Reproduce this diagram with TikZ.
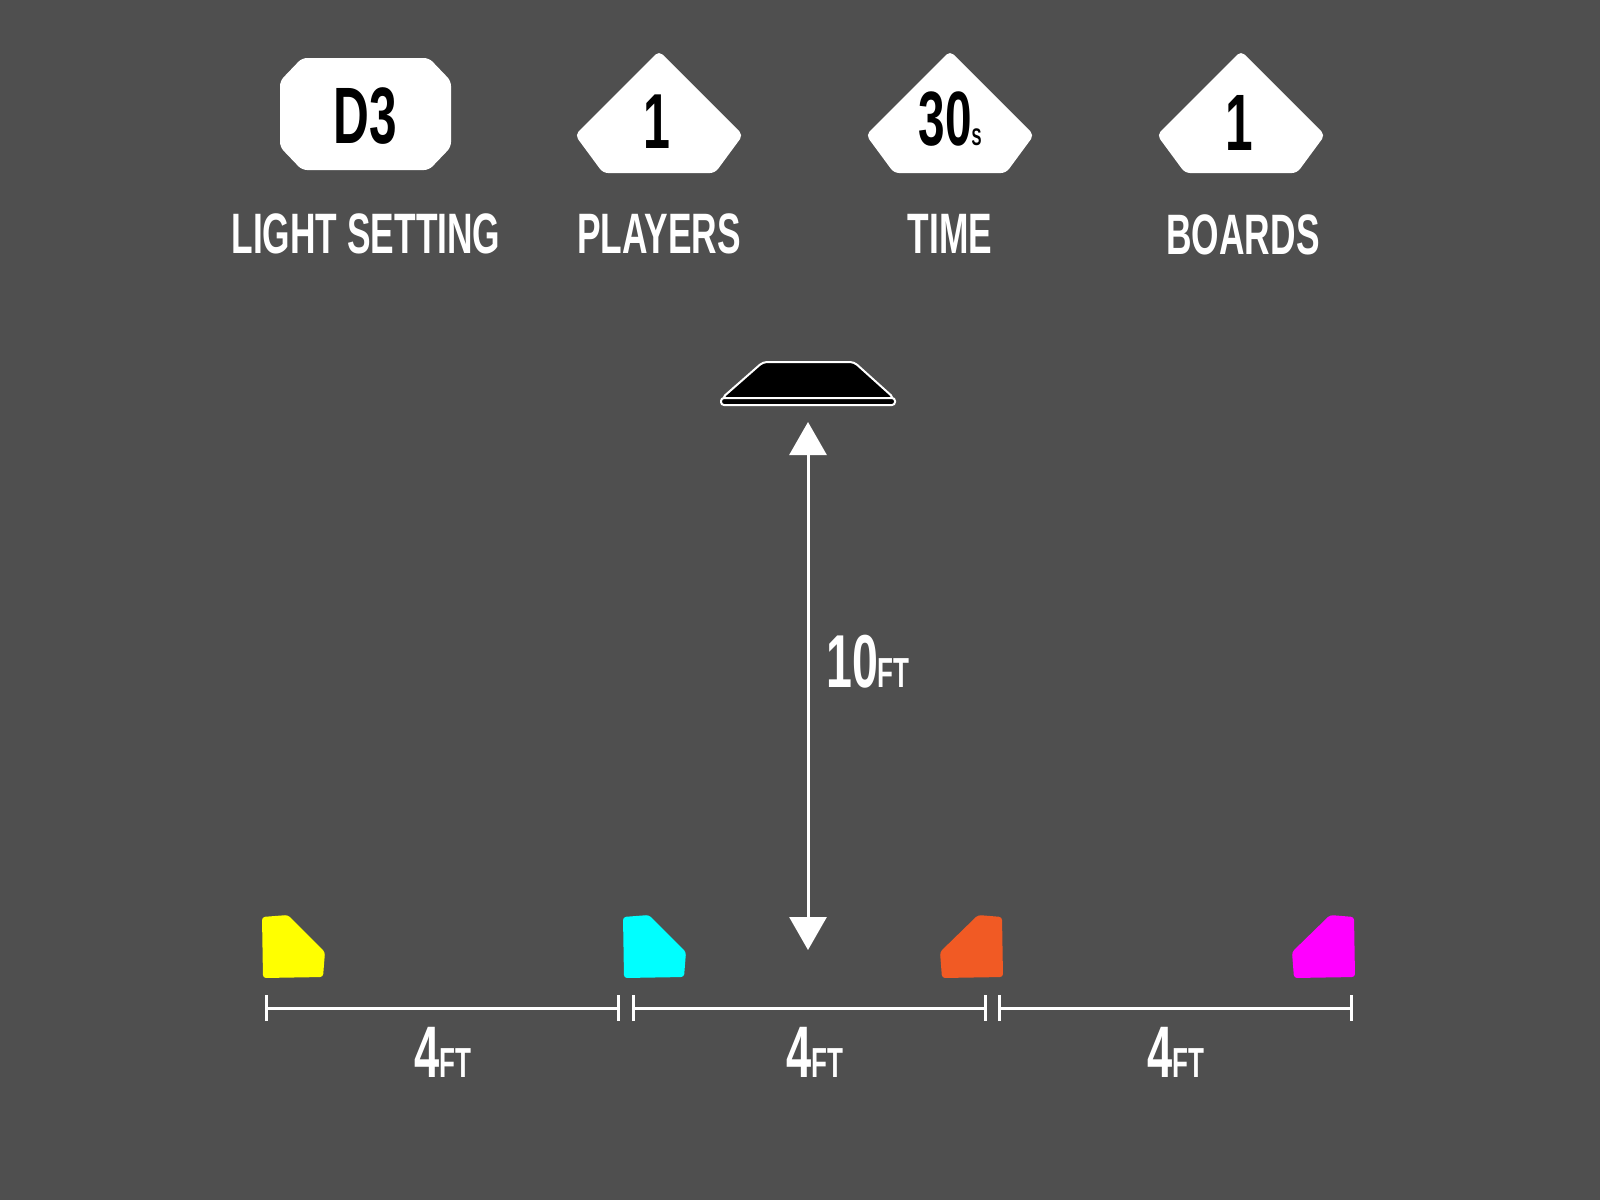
\documentclass[tikz,border=0pt]{standalone}
\usepackage{fontspec}
\setmainfont{Liberation Sans}[FakeStretch=0.62]
\usetikzlibrary{arrows.meta}
\definecolor{bg}{HTML}{4F4F4F}
\definecolor{conered}{HTML}{F15A24}
\definecolor{coneyellow}{HTML}{FFFF00}
\definecolor{conecyan}{HTML}{00FFFF}
\definecolor{conemag}{HTML}{FF00FF}
\newcommand\myfs[1]{\fontsize{#1}{#1}\selectfont\bfseries}
\tikzset{
  badge/.style={fill=white, rounded corners=5pt},
  badgetxt/.style={inner sep=0pt, anchor=base, text=black},
  lbl/.style={inner sep=0pt, anchor=base, text=white, font=\myfs{57}},
  dist/.style={inner sep=0pt, anchor=base, text=white},
  meas/.style={draw=white, line width=3pt, {Bar[width=26pt,line width=3pt]}-{Bar[width=26pt,line width=3pt]}},
  varrow/.style={draw=white, line width=3pt, {Triangle[width=37pt,length=33pt]}-{Triangle[width=37pt,length=33pt]}},
  cone/.style={rounded corners=3pt}
}
\begin{document}
\begin{tikzpicture}[x=1pt,y=-1pt]
\fill[bg] (0,0) rectangle (1600,1200);
\useasboundingbox (0,0) rectangle (1600,1200);

% badges
\path[badge] (280,81) -- (302,58) -- (429,58) -- (451,81) -- (451,147) -- (429,170) -- (302,170) -- (280,147) -- cycle;
\foreach \c in {659,950,1241}{
  \path[badge] (\c,51) -- (\c+84,135) -- (\c+56,173) -- (\c-56,173) -- (\c-84,135) -- cycle;
}
\node[badgetxt, font=\myfs{80}] (d3) at (365,143) {D3};
\node[badgetxt, font=\myfs{78}] (players) at (657,148) {1};
\node[badgetxt, font=\myfs{77}] (time) at (950,145) {30{\myfs{24}S}};
\node[badgetxt, font=\myfs{80}] (boards) at (1239,150) {1};

\node[lbl] (l1) at (366,253) {LIGHT SETTING};
\node[lbl] (l2) at (659,253) {PLAYERS};
\node[lbl] (l3) at (950,253) {TIME};
\node[lbl] (l4) at (1243,254) {BOARDS};

% light board (trapezoid)
\path[fill=black, draw=white, line width=2pt, rounded corners=4pt]
  (722,398) -- (763,362) -- (854,362) -- (894,398) -- cycle;
\path[fill=black, draw=white, line width=2pt, rounded corners=3pt]
  (721,398) rectangle (895,405);
\coordinate (trap) at (808,405);

% vertical arrow
\coordinate (arrtop) at (808,422);
\coordinate (arrbot) at (808,950);
\draw[varrow] (arrtop) -- (arrbot);
\node[dist, anchor=base west] (ten) at (826,687) {{\myfs{75}10}{\myfs{42}FT}};

% cones
\fill[coneyellow, cone] (262,917) -- (288,915) -- (325,952) -- (323,977) -- (263,978) -- cycle;
\fill[conecyan, cone] (623,917) -- (649,915) -- (686,952) -- (684,977) -- (624,978) -- cycle;
\fill[conered, cone] (978,915) -- (1002,917) -- (1003,977) -- (942,978) -- (940,952) -- cycle;
\fill[conemag, cone] (1330,915) -- (1354,917) -- (1355,977) -- (1294,978) -- (1292,952) -- cycle;

% measurements
\coordinate (m1a) at (265,1008);
\coordinate (m1b) at (620,1008);
\coordinate (m2a) at (632,1008);
\coordinate (m2b) at (987,1008);
\coordinate (m3a) at (998,1008);
\coordinate (m3b) at (1353,1008);
\draw[meas] (m1a) -- (m1b);
\draw[meas] (m2a) -- (m2b);
\draw[meas] (m3a) -- (m3b);
\node[dist] (d1) at (443,1077) {{\myfs{73}4}{\myfs{42}FT}};
\node[dist] (d2) at (815,1077) {{\myfs{73}4}{\myfs{42}FT}};
\node[dist] (d3l) at (1176,1077) {{\myfs{73}4}{\myfs{42}FT}};
\end{tikzpicture}
\end{document}
